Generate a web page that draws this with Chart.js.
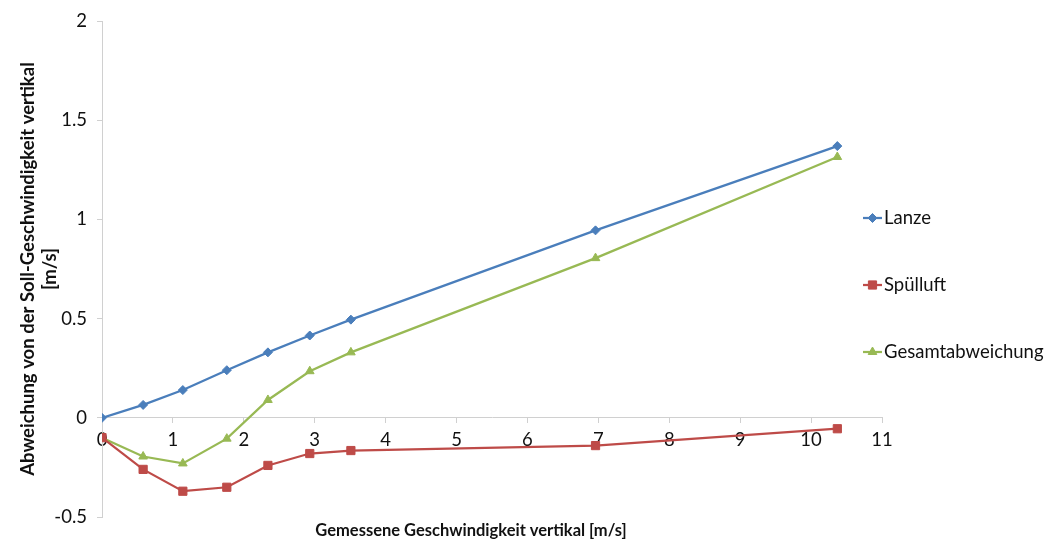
<!DOCTYPE html>
<html>
<head>
<meta charset="utf-8">
<script src="https://cdn.jsdelivr.net/npm/chart.js@4.4.1/dist/chart.umd.min.js"></script>
<style>
  html, body { margin: 0; padding: 0; background: #ffffff; }
  canvas { display: block; }
</style>
</head>
<body>
<canvas id="chart" width="1046" height="541"></canvas>
<script>
// Measured vertical speed [m/s] and deviation from the target speed [m/s]
const speeds    = [0, 0.58, 1.14, 1.76, 2.34, 2.93, 3.51, 6.96, 10.37];
const lanze     = [0, 0.065, 0.14, 0.24, 0.33, 0.415, 0.495, 0.945, 1.37];
const spuelluft = [-0.1, -0.26, -0.37, -0.35, -0.24, -0.18, -0.165, -0.14, -0.055];
const gesamt    = [-0.1, -0.195, -0.23, -0.105, 0.09, 0.235, 0.33, 0.805, 1.315];

const seriesNames = ['Lanze', 'Spülluft', 'Gesamtabweichung'];
const yTickLabels = ['-0.5', '0', '0.5', '1', '1.5', '2'];
const xTitle = 'Gemessene Geschwindigkeit vertikal [m/s]';
const yTitle = ['Abweichung von der Soll-Geschwindigkeit vertikal', '[m/s]'];

const FONT = 'Lato, "Open Sans", sans-serif';
const AXIS_GREY = '#d0d0d0';

const toPoints = ys => speeds.map((x, i) => ({ x, y: ys[i] }));

function series(label, values, color, style, radius) {
  return {
    label,
    data: toPoints(values),
    borderColor: color,
    backgroundColor: color,
    borderWidth: 2.25,
    pointStyle: style,
    pointRadius: radius,
    pointHoverRadius: radius,
    pointBorderWidth: 1,
    tension: 0
  };
}

// Legend on the right: short line with the series marker, then the name
const sideLegend = {
  id: 'sideLegend',
  afterDraw(chart) {
    const ctx = chart.ctx;
    const rows = [218, 285, 352];
    ctx.save();
    chart.data.datasets.forEach((ds, i) => {
      const y = rows[i];
      ctx.strokeStyle = ds.borderColor;
      ctx.fillStyle = ds.backgroundColor;
      ctx.lineWidth = 2.25;
      ctx.beginPath();
      ctx.moveTo(863, y);
      ctx.lineTo(882, y);
      ctx.stroke();
      ctx.lineWidth = 1;
      Chart.helpers.drawPoint(ctx, {
        pointStyle: ds.pointStyle, radius: ds.pointRadius, rotation: 0, borderWidth: 1
      }, 872.5, y);
      ctx.fillStyle = '#111111';
      ctx.font = '18.5px ' + FONT;
      ctx.textAlign = 'left';
      ctx.textBaseline = 'middle';
      ctx.fillText(ds.label, 884, y);
    });
    ctx.restore();
  }
};

// Horizontal axis title along the bottom edge
const bottomTitle = {
  id: 'bottomTitle',
  afterDraw(chart) {
    const ctx = chart.ctx;
    ctx.save();
    ctx.fillStyle = '#111111';
    ctx.font = 'bold 16.5px ' + FONT;
    ctx.textAlign = 'center';
    ctx.textBaseline = 'middle';
    ctx.fillText(xTitle, 471, 531);
    ctx.restore();
  }
};

new Chart(document.getElementById('chart'), {
  type: 'line',
  data: {
    datasets: [
      series(seriesNames[0], lanze,     '#4a7ebb', 'rectRot', 4.5),
      series(seriesNames[1], spuelluft, '#be4b48', 'rect',    5.8),
      series(seriesNames[2], gesamt,    '#98b954', 'triangle', 5)
    ]
  },
  options: {
    responsive: false,
    animation: false,
    devicePixelRatio: 1,
    layout: { padding: { left: 0, right: 164, top: 20, bottom: 24 } },
    plugins: {
      legend: { display: false },
      tooltip: { enabled: false }
    },
    scales: {
      x: {
        type: 'linear',
        position: { y: 0 },
        min: 0,
        max: 11,
        ticks: {
          stepSize: 1,
          color: '#111111',
          font: { family: FONT, size: 18.5 },
          padding: 6,
          maxRotation: 0
        },
        grid: {
          drawOnChartArea: false,
          drawTicks: true,
          tickLength: 5,
          color: AXIS_GREY
        },
        border: { display: true, color: AXIS_GREY, width: 1 }
      },
      y: {
        type: 'linear',
        position: 'left',
        min: -0.5,
        max: 2,
        ticks: {
          stepSize: 0.5,
          color: '#111111',
          font: { family: FONT, size: 18.5 },
          padding: 10,
          callback: (value, index) => yTickLabels[index]
        },
        grid: {
          drawOnChartArea: false,
          drawTicks: true,
          tickLength: 5,
          color: AXIS_GREY
        },
        border: { display: true, color: AXIS_GREY, width: 1 },
        title: {
          display: true,
          text: yTitle,
          color: '#111111',
          font: { family: FONT, size: 18.5, weight: 'bold', lineHeight: 1.2 },
          padding: { top: 17, bottom: 0 }
        },
        afterFit(scale) { scale.width = 102; }
      }
    }
  },
  plugins: [sideLegend, bottomTitle]
});
</script>
</body>
</html>
